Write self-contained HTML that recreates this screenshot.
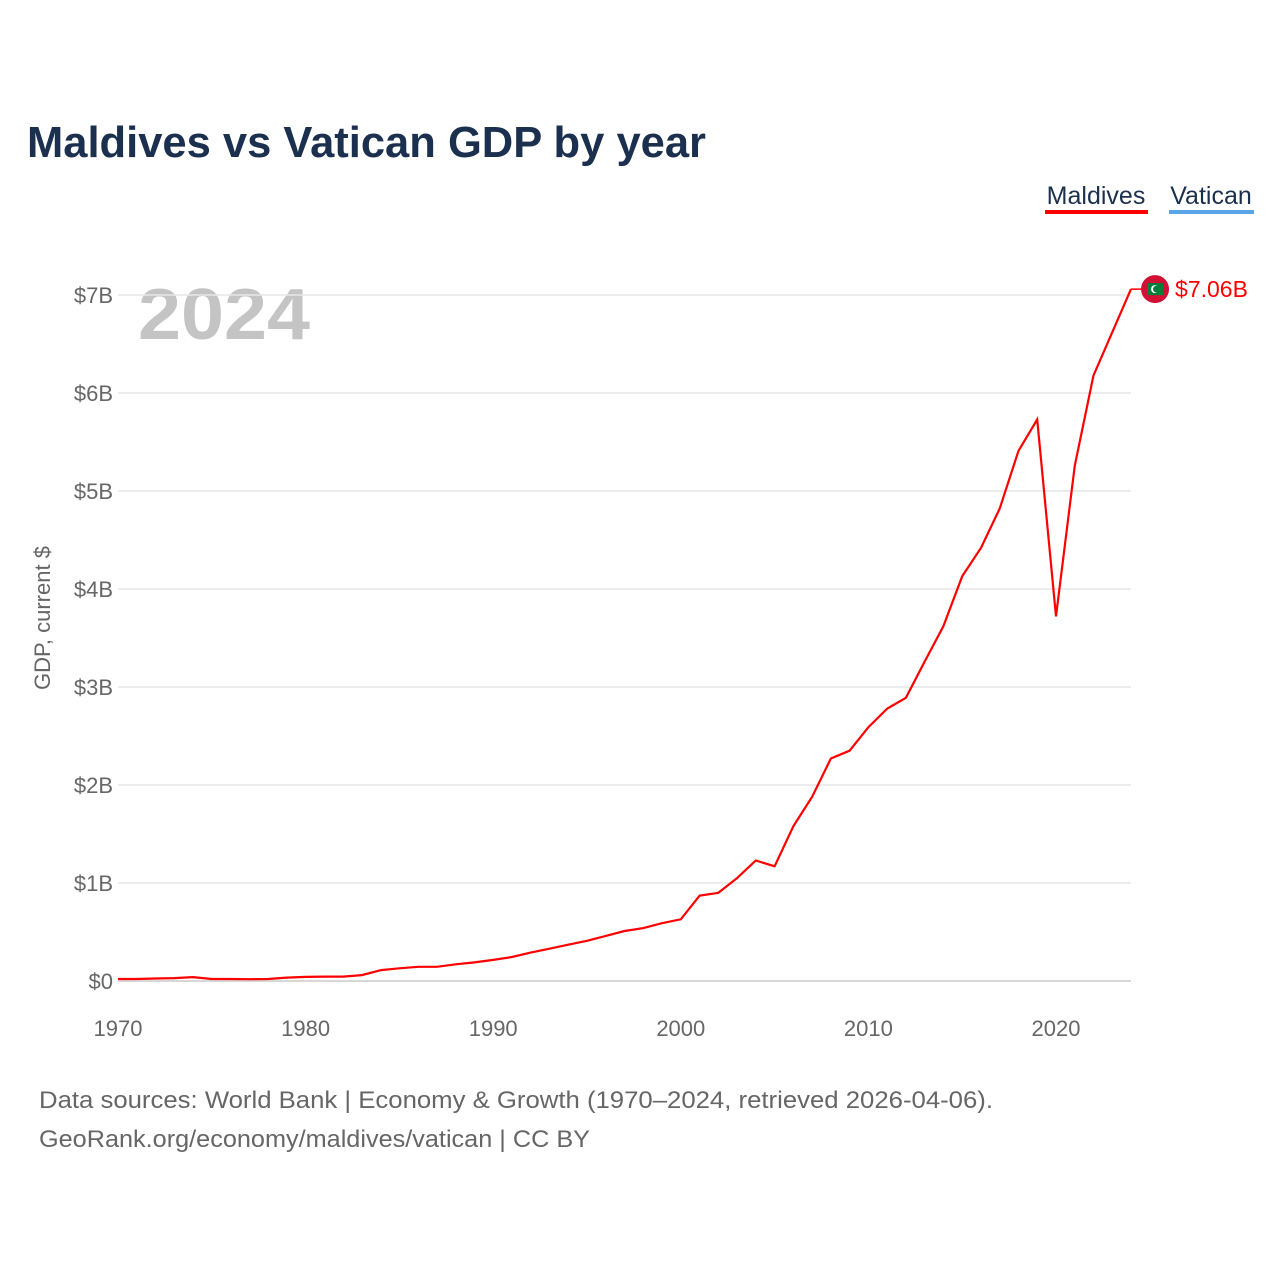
<!DOCTYPE html>
<html><head><meta charset="utf-8"><style>
body{margin:0;background:#fff;font-family:"Liberation Sans",sans-serif;}
</style></head><body>
<svg width="1280" height="1280" xmlns="http://www.w3.org/2000/svg">
<text x="27" y="157" font-size="44" font-weight="bold" fill="#1b2f4e" textLength="679" lengthAdjust="spacingAndGlyphs">Maldives vs Vatican GDP by year</text>
<g><text x="1096" y="204" font-size="25" fill="#1b2f4e" text-anchor="middle">Maldives</text><rect x="1045" y="210" width="103" height="4" fill="#ff0000"/></g>
<g><text x="1211" y="204" font-size="25" fill="#1b2f4e" text-anchor="middle">Vatican</text><rect x="1169" y="210" width="85" height="4" fill="#5aa5e6"/></g>
<text x="138" y="339" font-size="72" font-weight="bold" fill="#c4c4c4" textLength="172" lengthAdjust="spacingAndGlyphs">2024</text>
<text transform="translate(50,618) rotate(-90)" font-size="22" fill="#666" text-anchor="middle">GDP, current $</text>
<g id="grid"></g><g id="yt"></g><g id="xt"></g>
<path id="line" fill="none" stroke="#ff0000" stroke-width="2.2"/>
<line id="endline" stroke="#ff0000" stroke-width="1.5"/>
<g id="flag"></g>
<text id="endlabel" font-size="23" fill="#ff0000"></text>
<text x="39" y="1108" font-size="24" fill="#666" textLength="954" lengthAdjust="spacingAndGlyphs">Data sources: World Bank | Economy &amp; Growth (1970–2024, retrieved 2026-04-06).</text>
<text x="39" y="1147" font-size="24" fill="#666" textLength="551" lengthAdjust="spacingAndGlyphs">GeoRank.org/economy/maldives/vatican | CC BY</text>
</svg>
<script>
const years=[];for(let y=1970;y<=2024;y++)years.push(y);
const maldives=[0.02,0.02,0.025,0.03,0.04,0.02,0.02,0.018,0.02,0.035,0.042,0.045,0.045,0.06,0.11,0.13,0.145,0.145,0.17,0.19,0.215,0.245,0.29,0.33,0.37,0.41,0.46,0.51,0.54,0.59,0.63,0.87,0.9,1.05,1.23,1.17,1.58,1.88,2.27,2.35,2.59,2.78,2.89,3.26,3.62,4.13,4.42,4.82,5.41,5.73,3.72,5.26,6.18,6.62,7.06];
const yTicks=[0,1,2,3,4,5,6,7];
const yTickLabels=["$0","$1B","$2B","$3B","$4B","$5B","$6B","$7B"];
const xTicks=[1970,1980,1990,2000,2010,2020];
const NS="http://www.w3.org/2000/svg";
const X=v=>118+(v-1970)*18.76;
const Y=v=>981-v*98;
const grid=document.getElementById('grid'),yt=document.getElementById('yt'),xt=document.getElementById('xt');
yTicks.forEach((t,i)=>{
 const l=document.createElementNS(NS,'line');
 l.setAttribute('x1',118);l.setAttribute('x2',1131);l.setAttribute('y1',Y(t));l.setAttribute('y2',Y(t));
 l.setAttribute('stroke',t===0?'#cccccc':'#e6e6e6');l.setAttribute('stroke-width',1.5);
 
 
 grid.appendChild(l);
 const tx=document.createElementNS(NS,'text');
 tx.setAttribute('x',113);tx.setAttribute('y',Y(t)+8);tx.setAttribute('text-anchor','end');
 tx.setAttribute('font-size',22);tx.setAttribute('fill','#666');tx.textContent=yTickLabels[i];
 
 
 yt.appendChild(tx);
});
xTicks.forEach(t=>{
 const tx=document.createElementNS(NS,'text');
 tx.setAttribute('x',X(t));tx.setAttribute('y',1036);tx.setAttribute('text-anchor','middle');
 tx.setAttribute('font-size',22);tx.setAttribute('fill','#666');tx.textContent=t;
 
 
 xt.appendChild(tx);
});
document.getElementById('line').setAttribute('d',maldives.map((v,i)=>(i?'L':'M')+X(years[i]).toFixed(1)+','+Y(v).toFixed(1)).join(''));
const last=maldives[maldives.length-1],lx=X(years[years.length-1]),ly=Y(last);
const el=document.getElementById('endline');
el.setAttribute('x1',lx);el.setAttribute('x2',lx+14);el.setAttribute('y1',ly);el.setAttribute('y2',ly);
document.getElementById('flag').innerHTML=`<circle cx="${lx+24}" cy="${ly}" r="14" fill="#d21034"/><rect x="${lx+16}" y="${ly-6}" width="16" height="12" fill="#007e3a"/><circle cx="${lx+24}" cy="${ly}" r="4" fill="#fff"/><circle cx="${lx+25.5}" cy="${ly}" r="3.5" fill="#007e3a"/>`;
const lab=document.getElementById('endlabel');
lab.setAttribute('x',lx+44);lab.setAttribute('y',ly+8);lab.textContent='$'+last.toFixed(2)+'B';
</script>
</body></html>
